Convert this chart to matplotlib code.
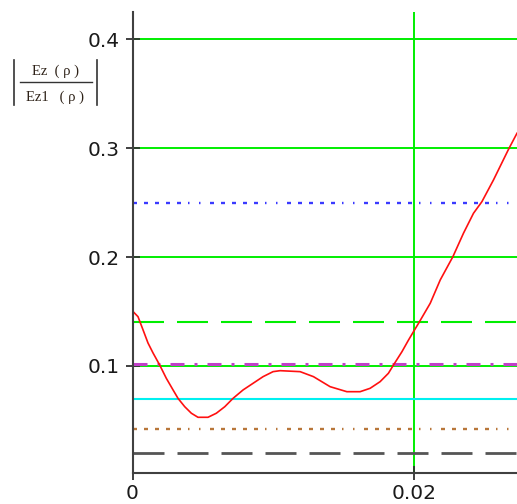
import matplotlib
matplotlib.use("Agg")
import matplotlib.pyplot as plt
from matplotlib.lines import Line2D

plt.rcParams['lines.scale_dashes'] = False

# curve |Ez(rho)/Ez1(rho)|
rho = [0.0, 0.00039, 0.00075, 0.00110, 0.00146, 0.00193, 0.00240, 0.00288,
       0.00323, 0.00371, 0.00418, 0.00465, 0.00536, 0.00595, 0.00655, 0.00714,
       0.00785, 0.00856, 0.00927, 0.00998, 0.01048, 0.01190, 0.01285, 0.01403,
       0.01522, 0.01616, 0.01687, 0.01758, 0.01817, 0.01853, 0.01913, 0.01960,
       0.01995, 0.02031, 0.02114, 0.02185, 0.02275, 0.02350, 0.02421, 0.02481,
       0.02563, 0.02670, 0.02730]
ratio = [0.1505, 0.1453, 0.1331, 0.1211, 0.1119, 0.1009, 0.0887, 0.0780,
         0.0703, 0.0626, 0.0566, 0.0529, 0.0529, 0.0566, 0.0626, 0.0703,
         0.0780, 0.0841, 0.0902, 0.0948, 0.0957, 0.0948, 0.0902, 0.0810,
         0.0764, 0.0764, 0.0795, 0.0856, 0.0933, 0.1009, 0.1131, 0.1239,
         0.1315, 0.1392, 0.1576, 0.1790, 0.2004, 0.2219, 0.2402, 0.2509,
         0.2708, 0.2990, 0.3137]

# horizontal reference levels
grid_levels = [0.1, 0.2, 0.3, 0.4]
level_blue = 0.25
level_green_dash = 0.14
level_magenta = 0.1015
level_cyan = 0.07
level_brown = 0.042
level_black = 0.02
marker_x = 0.02

xticks = [0, 0.02]
xtick_labels = ['0', '0.02']
yticks = [0.1, 0.2, 0.3, 0.4]
ytick_labels = ['0.1', '0.2', '0.3', '0.4']

W, H = 517, 504
fig = plt.figure(figsize=(W / 100, H / 100), dpi=100)
ax = fig.add_axes([132.5 / W, 31 / H, (W - 132.5) / W, 461 / H])
ax.set_xlim(0, 0.0273)
ax.set_ylim(0.00175, 0.425)

pt = 0.72  # px -> pt
lime = '#00ee00'
dotdash = [4 * pt, 7 * pt] * 5 + [1.5 * pt, 9.5 * pt] * 2

for lv in grid_levels:
    ax.axhline(lv, color=lime, lw=1.4, zorder=1)
ax.axvline(marker_x, color=lime, lw=1.4, zorder=1)

ax.axhline(level_blue, color='#3a3aff', lw=1.7, zorder=2, dashes=dotdash)
ax.axhline(level_green_dash, color=lime, lw=1.5, zorder=2,
           dashes=[31 * pt, 13 * pt])
ax.axhline(level_magenta, color='#c040c8', lw=2.2, zorder=2,
           dashes=[14 * pt, 10 * pt, 3 * pt, 10 * pt])
ax.axhline(level_cyan, color='#00f0f0', lw=1.5, zorder=2)
ax.axhline(level_brown, color='#b8763a', lw=1.7, zorder=2, dashes=dotdash)
ax.axhline(level_black, color='#555555', lw=2.0, zorder=2,
           dashes=[31 * pt, 13 * pt])

ax.plot(rho, ratio, color='#ff1010', lw=1.2, zorder=3)

for s in ['top', 'right']:
    ax.spines[s].set_visible(False)
for s in ['left', 'bottom']:
    ax.spines[s].set_color('#404040')
    ax.spines[s].set_linewidth(1.5)
    ax.spines[s].set_zorder(4)

ax.set_xticks(xticks)
ax.set_xticklabels(xtick_labels)
ax.set_yticks(yticks)
ax.set_yticklabels(ytick_labels)
ax.tick_params(direction='inout', length=10, width=1.3, color='#303030',
               labelsize=14.5, labelcolor='#1a1a1a')
ax.tick_params(axis='y', pad=4)
ax.tick_params(axis='x', pad=3)

# y label drawn as |fraction| like the Mathcad output
lab_col = '#2e2218'
fig.text(55 / W, 1 - 71.5 / H, 'Ez  ( ρ )', ha='center', va='center',
         family='Liberation Serif', fontsize=10.5, color=lab_col)
fig.text(55 / W, 1 - 97.5 / H, 'Ez1   ( ρ )', ha='center', va='center',
         family='Liberation Serif', fontsize=10.5, color=lab_col)
fig.add_artist(Line2D([20 / W, 92 / W], [1 - 82.3 / H, 1 - 82.3 / H],
                      color='#333333', lw=1.0))
for bx in [13.5, 96.5]:
    fig.add_artist(Line2D([bx / W, bx / W], [1 - 60 / H, 1 - 105 / H],
                          color='#333333', lw=1.2))

fig.savefig('out.png', dpi=100)
